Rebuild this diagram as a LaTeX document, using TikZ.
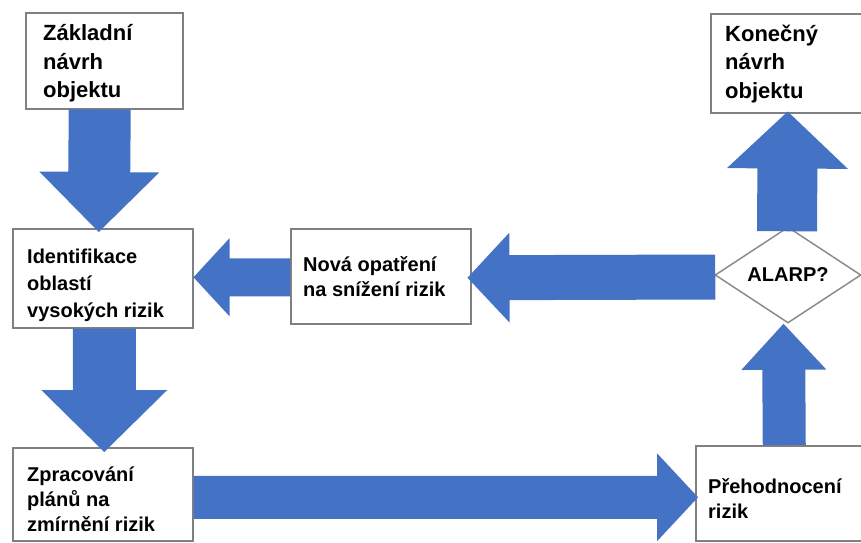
\documentclass[tikz,border=0pt]{standalone}
\usepackage{fontspec}
\setmainfont{Liberation Sans}
\usetikzlibrary{calc,shapes.geometric}

\definecolor{arrowblue}{RGB}{68,114,196}
\definecolor{boxgray}{RGB}{128,128,128}
\definecolor{diagray}{RGB}{140,140,140}

% Fat block arrow from #1 (shaft start) to #2 (tip):
% #3 shaft half width, #4 head half width, #5 head length
\newcommand\fatarrow[5]{%
  \coordinate (fa-base) at ($(#2)!#5!(#1)$);
  \fill[arrowblue]
    ($(#1)!#3!90:(#2)$) -- ($(fa-base)!#3!90:(#2)$) --
    ($(fa-base)!#4!90:(#2)$) -- (#2) --
    ($(fa-base)!#4!-90:(#2)$) -- ($(fa-base)!#3!-90:(#2)$) --
    ($(#1)!#3!-90:(#2)$) -- cycle;
}

\tikzset{
  stage/.style={draw=boxgray, line width=1.5pt, fill=white, inner sep=0pt,
    anchor=north west},
  label22/.style={anchor=north west, inner sep=0pt, align=left,
    font=\bfseries\fontsize{22}{28.5}\selectfont},
  label20/.style={anchor=north west, inner sep=0pt, align=left,
    font=\bfseries\fontsize{20}{#1}\selectfont},
  decision/.style={diamond, draw=diagray, line width=1.5pt, fill=white,
    inner sep=0pt, minimum width=146pt, minimum height=96pt,
    font=\bfseries\fontsize{20}{24}\selectfont},
}

\begin{document}
\begin{tikzpicture}[x=1pt, y=-1pt]
  \useasboundingbox (0,0) rectangle (861,542);
  \clip (0,0) rectangle (861,542);

  % process boxes
  \node[stage, minimum width=157pt, minimum height=96pt] (b1) at (25,12) {};
  \node[stage, minimum width=156pt, minimum height=99pt] (b2) at (710,13) {};
  \node[stage, minimum width=180pt, minimum height=99pt] (b3) at (12,228) {};
  \node[stage, minimum width=180pt, minimum height=95pt] (b4) at (290,228) {};
  \node[stage, minimum width=180pt, minimum height=93pt] (b6) at (12,447) {};
  \node[stage, minimum width=171pt, minimum height=95pt] (b7) at (695,445) {};
  \node[decision] (d) at (788,275) {ALARP?};

  % box texts
  \node[label22] (t1) at (43,24.5) {Základní\\návrh\\objektu};
  \node[label22] (t2) at (725,24.5) {Konečný\\návrh\\objektu};
  \node[label20=27] (t3) at (27,248.4) {Identifikace\\oblastí\\vysokých rizik};
  \node[label20=25.5] (t4) at (303,256.3) {Nová opatření\\na snížení rizik};
  \node[label20=25] (t6) at (27,467) {Zpracování\\plánů na\\zmírnění rizik};
  \node[label20=25] (t7) at (708,478) {Přehodnocení\\rizik};

  % arrow end points
  \coordinate (a1s) at ($(b1.south)+(-4.5,0)$);
  \coordinate (a1e) at ($(b3.north)+(-4,4)$);
  \coordinate (a2s) at ($(b3.south)+(1.5,0)$);
  \coordinate (a2e) at ($(b6.north)+(1.5,5)$);
  \coordinate (a3s) at ($(b6.east)+(0,3)$);
  \coordinate (a3e) at ($(b7.west)+(3,4)$);
  \coordinate (a4s) at ($(b7.north)+(3,0)$);
  \coordinate (a4e) at ($(d.south)+(-4.5,0)$);
  \coordinate (a5s) at ($(d.north)+(-1,5)$);
  \coordinate (a5e) at ($(b2.south)+(-1,-2)$);
  \coordinate (a6s) at ($(d.west)+(1,2)$);
  \coordinate (a6e) at ($(b4.east)+(-4,1.5)$);
  \coordinate (a7s) at ($(b4.west)+(0,1)$);
  \coordinate (a7e) at ($(b3.east)+(0,-1)$);

  % block arrows
  \fatarrow{a1s}{a1e}{31pt}{60pt}{60pt}
  \fatarrow{a2s}{a2e}{31.5pt}{63pt}{62pt}
  \fatarrow{a3s}{a3e}{21.5pt}{44pt}{41pt}
  \fatarrow{a4s}{a4e}{21.5pt}{42.5pt}{46pt}
  \fatarrow{a5s}{a5e}{30pt}{60.5pt}{57pt}
  \fatarrow{a6s}{a6e}{22.5pt}{45pt}{42pt}
  \fatarrow{a7s}{a7e}{19pt}{39pt}{36pt}
\end{tikzpicture}
\end{document}
